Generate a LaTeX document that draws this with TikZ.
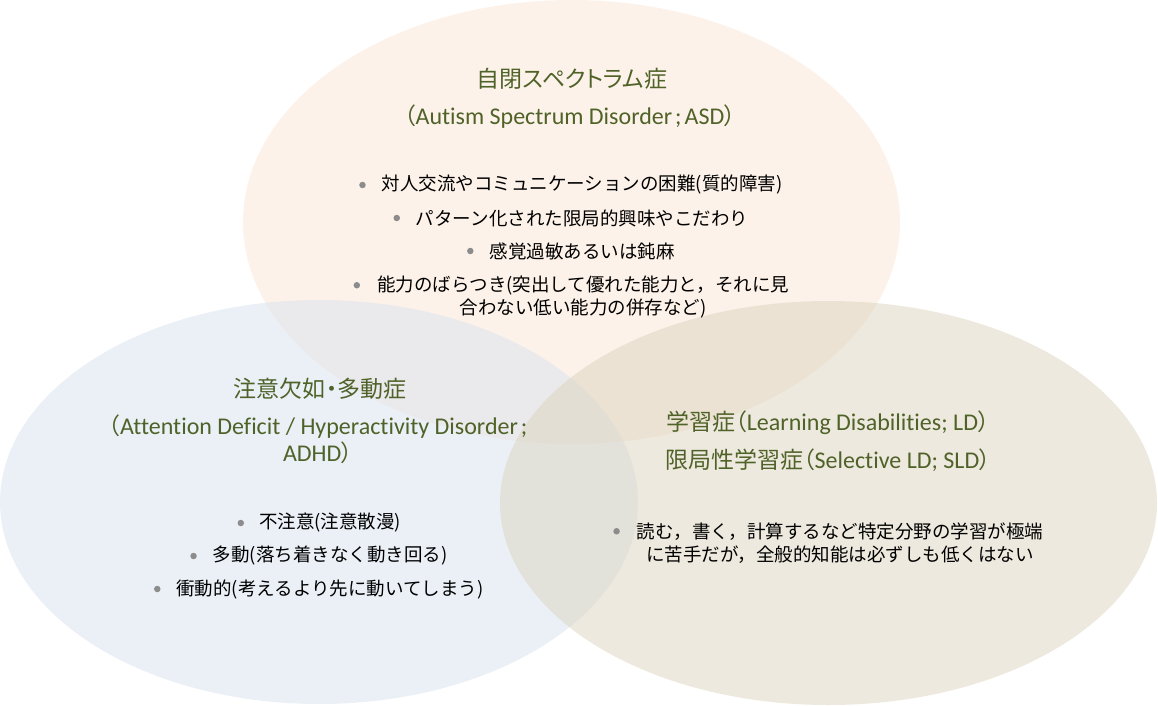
\documentclass[tikz,border=0pt]{standalone}
\usepackage{fontspec}
\newfontfamily\jp{Noto Sans CJK JP}
\newfontfamily\jpt[RawFeature=+palt]{Noto Sans CJK JP}
\newfontfamily\lat[Ligatures=NoCommon]{Carlito}
\newcommand\la[1]{{\lat\fontsize{24}{27}\selectfont #1}}
\newcommand\semi{\hspace{3pt};\hspace{3pt}}
\definecolor{olivetxt}{HTML}{4F6228}
\definecolor{dotgray}{HTML}{8C8C8C}
\definecolor{asdc}{HTML}{FBE5D3}
\definecolor{adhdc}{HTML}{D7E1F0}
\definecolor{ldc}{HTML}{DBD3BD}
\begin{document}
\begin{tikzpicture}[x=1pt,y=-1pt,
  ttl/.style={inner sep=0pt, text=olivetxt, font=\jpt\fontsize{23}{27}\selectfont, align=center},
  body/.style={inner sep=0pt, text=black, font=\jp\fontsize{18.5}{23.5}\selectfont, align=center},
  dotm/.style={circle, fill=dotgray, draw=none, inner sep=0pt, minimum size=6.5pt},
  setfill/.style={fill=#1, fill opacity=0.5, draw=none}]
\useasboundingbox (0,0) rectangle (1158,706);
% sets
\fill[setfill=asdc] (571.5,222) ellipse [x radius=328.5pt, y radius=222pt];
\fill[setfill=adhdc] (319,502) ellipse [x radius=319pt, y radius=202pt];
\fill[setfill=ldc] (828.5,503) ellipse [x radius=328.5pt, y radius=202pt];
% ASD
\node[ttl] (asdT) at (572,79) {自閉スペクトラム症};
\node[ttl] (asdS) at (570,117) {（\la{Autism Spectrum Disorder\semi ASD}）};
\node[body] (asd1) at (582,185) {対人交流やコミュニケーションの困難(質的障害)};
\node[body] (asd2) at (582,218) {パターン化された限局的興味やこだわり};
\node[body] (asd3) at (582,251) {感覚過敏あるいは鈍麻};
\node[body] (asd4) at (583,297) {能力のばらつき(突出して優れた能力と，それに見\\合わない低い能力の併存など)};
\node[dotm] (asd1d) at ([xshift=-19pt]asd1.west) {};
\node[dotm] (asd2d) at ([xshift=-19pt]asd2.west) {};
\node[dotm] (asd3d) at ([xshift=-19pt]asd3.west) {};
\node[dotm] (asd4d) at ([xshift=-20pt,yshift=11.75pt]asd4.west) {};
% ADHD
\node[ttl] (adhdT) at (320,389) {注意欠如・多動症};
\node[ttl] (adhdS) at (318,439) {（\la{Attention Deficit / Hyperactivity Disorder\hspace{3pt};}\\\la{ADHD}）};
\node[body] (adhd1) at (330,523) {不注意(注意散漫)};
\node[body] (adhd2) at (330,556) {多動(落ち着きなく動き回る)};
\node[body] (adhd3) at (330,589) {衝動的(考えるより先に動いてしまう)};
\node[dotm] (adhd1d) at ([xshift=-18pt]adhd1.west) {};
\node[dotm] (adhd2d) at ([xshift=-19pt]adhd2.west) {};
\node[dotm] (adhd3d) at ([xshift=-19pt]adhd3.west) {};
% LD
\node[ttl] (ldT1) at (828,423) {学習症（\la{Learning Disabilities; LD}）};
\node[ttl] (ldT2) at (828,460) {限局性学習症（\la{Selective LD; SLD}）};
\node[body] (ld1) at (840,543) {読む，書く，計算するなど特定分野の学習が極端\\に苦手だが，全般的知能は必ずしも低くはない};
\node[dotm] (ld1d) at ([xshift=-20pt,yshift=11.75pt]ld1.west) {};
\end{tikzpicture}
\end{document}
